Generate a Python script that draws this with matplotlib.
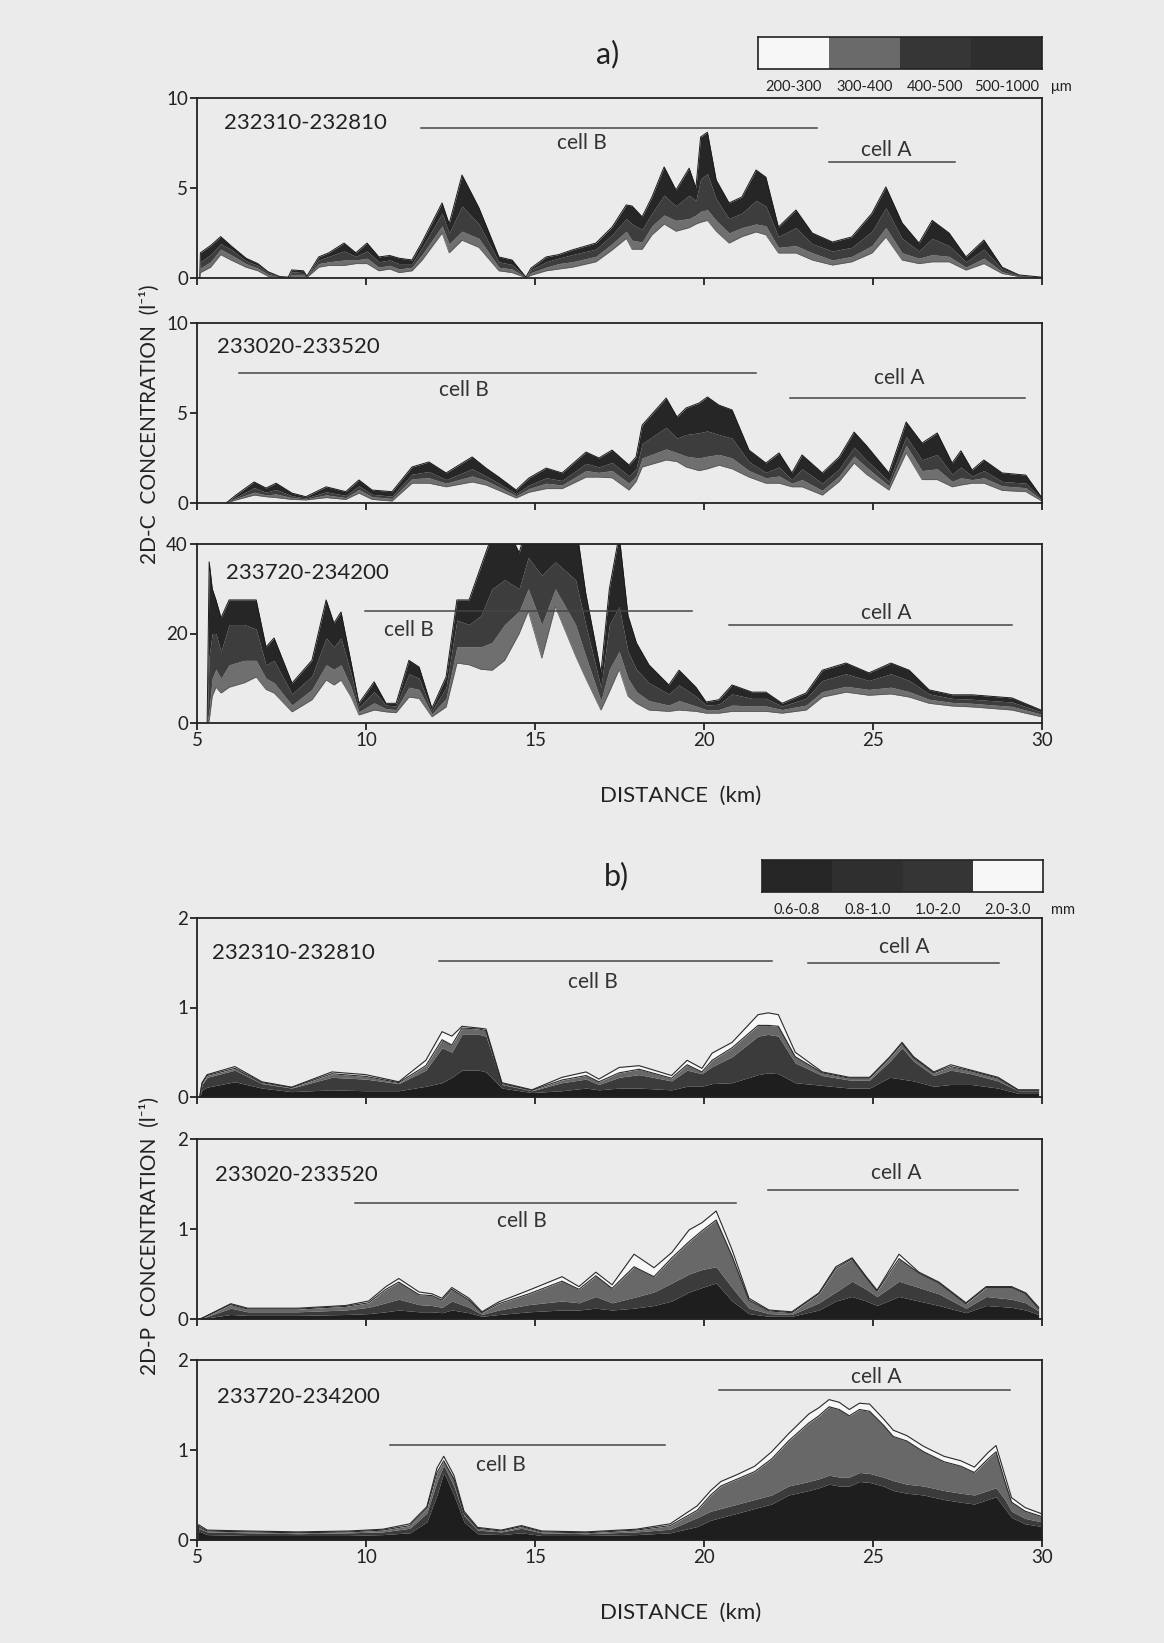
import numpy as np
import matplotlib.pyplot as plt

plt.rcParams['font.family'] = ['Lato', 'DejaVu Sans']

#* Datos (km y limites acumulados de cada capa)
# ---- 2D-C, 232310-232810
a1_km = [5.08, 5.1, 5.4, 5.7, 6.0, 6.45, 6.8, 7.1, 7.45, 7.7,
         7.8, 8.15, 8.25, 8.6, 8.9, 9.35, 9.7, 10.03, 10.38, 10.7,
         10.98, 11.36, 11.66, 12.25, 12.46, 12.84, 13.34, 13.93, 14.32, 14.73,
         14.88, 15.33, 15.7, 16.1, 16.8, 17.28, 17.7, 17.87, 18.17, 18.46,
         18.82, 19.17, 19.56, 19.76, 19.9, 20.1, 20.36, 20.74, 21.12, 21.54,
         21.83, 22.2, 22.72, 23.2, 23.8, 24.37, 24.97, 25.38, 25.86, 26.36,
         26.75, 27.25, 27.75, 28.28, 28.82, 29.32, 29.97]
a1_c0 = [0, 0.3, 0.6, 1.3, 1.0, 0.6, 0.4, 0.1, 0.02, 0.02,
         0.1, 0.1, 0.03, 0.6, 0.7, 0.7, 0.8, 0.8, 0.4, 0.5,
         0.3, 0.4, 1.0, 2.5, 1.4, 2.1, 1.7, 0.4, 0.3, 0.02,
         0.15, 0.4, 0.5, 0.6, 0.9, 1.56, 2.2, 1.6, 1.6, 2.4,
         3.0, 2.6, 2.8, 3.0, 3.1, 3.2, 2.6, 1.94, 2.3, 2.56,
         2.4, 1.39, 1.39, 1.0, 0.72, 0.9, 1.39, 2.28, 1.0, 0.8,
         0.9, 0.9, 0.44, 0.8, 0.25, 0.08, 0.02]
a1_c1 = [0, 0.55, 0.9, 1.6, 1.3, 0.8, 0.55, 0.2, 0.04, 0.03,
         0.2, 0.2, 0.05, 0.8, 0.9, 1.0, 1.0, 1.1, 0.6, 0.7,
         0.5, 0.6, 1.3, 2.9, 1.9, 2.6, 2.2, 0.6, 0.5, 0.03,
         0.3, 0.6, 0.8, 0.9, 1.2, 1.9, 2.6, 2.1, 2.0, 2.9,
         3.5, 3.2, 3.3, 3.5, 3.7, 3.8, 3.2, 2.5, 2.8, 3.0,
         2.9, 1.7, 1.8, 1.4, 1.0, 1.2, 1.8, 2.8, 1.4, 1.1,
         1.3, 1.2, 0.6, 1.1, 0.35, 0.1, 0.03]
a1_c2 = [0, 0.9, 1.3, 1.9, 1.6, 0.95, 0.7, 0.3, 0.05, 0.04,
         0.35, 0.3, 0.08, 1.0, 1.2, 1.5, 1.2, 1.5, 0.9, 1.0,
         0.8, 0.8, 1.7, 3.6, 2.5, 4.0, 3.0, 0.9, 0.75, 0.04,
         0.45, 0.9, 1.1, 1.3, 1.6, 2.4, 3.3, 3.0, 2.7, 3.6,
         4.6, 4.0, 4.6, 4.3, 5.5, 5.8, 4.4, 3.3, 3.6, 4.3,
         4.0, 2.3, 2.8, 1.9, 1.5, 1.7, 2.6, 3.9, 2.2, 1.5,
         2.2, 1.8, 0.9, 1.6, 0.5, 0.14, 0.04]
a1_c3 = [0, 1.4, 1.8, 2.3, 1.8, 1.1, 0.8, 0.35, 0.08, 0.05,
         0.45, 0.4, 0.1, 1.17, 1.4, 1.94, 1.4, 1.94, 1.17, 1.25,
         1.1, 1.0, 2.0, 4.17, 3.0, 5.72, 3.9, 1.17, 1.0, 0.05,
         0.55, 1.17, 1.3, 1.56, 1.94, 2.83, 4.06, 4.0, 3.4, 4.5,
         6.17, 4.89, 6.1, 5.0, 7.83, 8.1, 5.44, 4.17, 4.5, 6.0,
         5.6, 2.83, 3.78, 2.5, 2.0, 2.28, 3.6, 5.06, 3.06, 1.94,
         3.2, 2.5, 1.17, 2.11, 0.6, 0.17, 0.05]

# ---- 2D-C, 233020-233520
a2_km = [5.86, 6.15, 6.69, 7.04, 7.34, 7.81, 8.22, 8.82, 9.4, 9.79,
         10.18, 10.77, 11.36, 11.86, 12.37, 13.14, 13.55, 13.93, 14.44, 14.82,
         15.33, 15.8, 16.51, 16.89, 17.28, 17.78, 17.99, 18.17, 18.88, 19.2,
         19.47, 19.85, 20.1, 20.44, 20.83, 21.33, 21.83, 22.22, 22.6, 22.9,
         23.5, 24.0, 24.44, 24.8, 25.47, 25.98, 26.45, 26.9, 27.34, 27.6,
         27.93, 28.28, 28.82, 29.52, 30.0]
a2_c0 = [0, 0.17, 0.44, 0.35, 0.3, 0.2, 0.17, 0.3, 0.2, 0.55,
         0.2, 0.11, 1.1, 1.1, 0.9, 1.17, 1.0, 0.7, 0.28, 0.6,
         0.8, 0.8, 1.44, 1.44, 1.4, 0.72, 1.2, 2.0, 2.39, 2.3,
         2.0, 1.8, 1.9, 2.1, 1.9, 1.44, 1.1, 1.1, 0.9, 0.9,
         0.44, 1.2, 2.22, 1.6, 0.72, 2.78, 1.3, 1.3, 0.9, 1.0,
         1.1, 1.1, 0.7, 0.63, 0.1]
a2_c1 = [0, 0.25, 0.6, 0.45, 0.5, 0.3, 0.22, 0.45, 0.3, 0.75,
         0.35, 0.25, 1.35, 1.4, 1.1, 1.5, 1.25, 0.9, 0.4, 0.8,
         1.1, 1.0, 1.8, 1.7, 1.8, 1.1, 1.5, 2.5, 3.0, 2.8,
         2.6, 2.5, 2.6, 2.7, 2.5, 1.8, 1.4, 1.5, 1.1, 1.3,
         0.7, 1.5, 2.6, 2.0, 0.95, 3.2, 1.8, 1.9, 1.2, 1.4,
         1.3, 1.4, 0.95, 0.85, 0.15]
a2_c2 = [0, 0.32, 0.85, 0.6, 0.75, 0.4, 0.27, 0.62, 0.42, 0.95,
         0.48, 0.38, 1.6, 1.75, 1.3, 1.9, 1.5, 1.1, 0.52, 1.0,
         1.4, 1.25, 2.2, 2.0, 2.25, 1.5, 1.9, 3.3, 4.2, 3.6,
         3.8, 3.9, 4.0, 3.8, 3.6, 2.3, 1.7, 2.0, 1.3, 1.9,
         1.1, 1.9, 3.1, 2.4, 1.2, 3.7, 2.4, 2.7, 1.6, 2.0,
         1.5, 1.8, 1.2, 1.1, 0.2]
a2_c3 = [0, 0.44, 1.17, 0.83, 1.1, 0.55, 0.35, 0.9, 0.63, 1.28,
         0.72, 0.63, 2.0, 2.28, 1.67, 2.56, 1.94, 1.44, 0.72, 1.39,
         1.94, 1.67, 2.83, 2.5, 2.94, 2.11, 2.56, 4.33, 5.83, 4.78,
         5.28, 5.55, 5.89, 5.44, 5.17, 2.94, 2.22, 2.78, 1.67, 2.67,
         1.67, 2.56, 3.94, 3.2, 1.67, 4.5, 3.33, 3.89, 2.22, 2.9,
         1.83, 2.39, 1.67, 1.55, 0.28]

# ---- 2D-C, 233720-234200
a3_km = [5.3, 5.36, 5.45, 5.56, 5.71, 5.95, 6.4, 6.75, 7.04, 7.28,
         7.81, 8.4, 8.82, 9.05, 9.26, 9.56, 9.79, 10.24, 10.59, 10.89,
         11.27, 11.57, 11.95, 12.37, 12.69, 13.05, 13.4, 13.73, 14.1, 14.53,
         14.8, 15.2, 15.6, 16.2, 16.5, 16.95, 17.2, 17.49, 17.75, 18.0,
         18.37, 18.96, 19.26, 19.76, 20.06, 20.44, 20.83, 21.42, 21.83, 22.31,
         23.02, 23.5, 24.2, 24.88, 25.53, 26.07, 26.66, 27.34, 27.93, 29.11, 29.97]
a3_c0 = [0, 0.5, 6, 8, 6.7, 8, 9, 10.3, 7.5, 6.7,
         2.5, 5.2, 9.6, 8.5, 9.6, 5.8, 1.8, 2.9, 2.5, 2.3,
         5.8, 5.5, 1.4, 3.6, 13.4, 13, 12, 11.8, 14, 20,
         25, 14.5, 26, 15, 10, 2.9, 7, 12, 6, 4.4,
         2.9, 2.6, 2.9, 2.6, 2.2, 2.2, 2.6, 2.6, 2.6, 2.2,
         2.9, 5.8, 6.9, 6.2, 6.5, 5.8, 4.4, 3.8, 3.6, 2.9, 1.4]
a3_c1 = [0, 3, 10, 12, 10, 13, 14, 14, 10, 9,
         4, 7.5, 13, 12, 13, 8, 2.5, 4.5, 3.2, 3,
         8, 7.5, 2, 5.5, 17, 17, 17, 18, 22, 25,
         30, 22, 30, 22, 15, 5, 12, 16, 10, 7,
         5, 4, 5, 3.8, 3, 3, 4, 3.8, 3.8, 3,
         4, 7, 8.2, 7.5, 8, 7, 5.3, 4.6, 4.4, 3.7, 2]
a3_c2 = [0, 15, 20, 20, 16, 22, 22, 21, 13, 14,
         6.5, 10.5, 19, 17, 19, 11, 3.5, 7, 4, 3.8,
         11, 10, 2.7, 8, 23, 22, 24, 30, 32, 30,
         37, 33, 36, 32, 22, 8, 22, 26, 16, 12,
         9, 6.5, 8.5, 6, 4, 4.2, 6.5, 5.5, 5.5, 3.8,
         5.5, 9.5, 11, 9.5, 11, 9.5, 6.5, 5.5, 5.3, 4.7, 2.5]
a3_c3 = [0, 36, 30, 27.5, 23.5, 27.5, 27.5, 27.5, 17, 19,
         8.9, 14, 27.5, 22.3, 24.8, 13.4, 4.4, 9.2, 4.4, 4.4,
         14, 12.5, 3.3, 10.3, 27.5, 27.5, 35, 42, 45, 38,
         45, 45, 45, 45, 29, 11.2, 30, 42, 24, 17.9,
         13, 8.5, 11.8, 8, 4.7, 5.2, 8.5, 6.9, 6.9, 4.4,
         6.7, 11.8, 13.4, 11.2, 13.4, 11.8, 7.4, 6.3, 6.3, 5.6, 2.9]

# ---- 2D-P, 232310-232810
b1_km = [5.08, 5.15, 5.3, 6.12, 6.92, 7.8, 8.99, 9.99, 10.97, 11.77,
         12.25, 12.54, 12.84, 13.34, 13.55, 14.02, 14.91, 15.8, 16.51, 16.89,
         17.49, 18.08, 19.04, 19.5, 19.94, 20.24, 20.83, 21.6, 21.9, 22.2,
         22.7, 23.5, 24.3, 24.9, 25.5, 25.86, 26.2, 26.8, 27.3, 27.9, 28.7, 29.3, 29.9]
b1_c1 = [0, 0.08, 0.11, 0.17, 0.1, 0.06, 0.08, 0.07, 0.07, 0.12,
         0.16, 0.22, 0.3, 0.3, 0.28, 0.1, 0.05, 0.07, 0.1, 0.08,
         0.1, 0.1, 0.08, 0.12, 0.12, 0.15, 0.16, 0.25, 0.27, 0.26,
         0.16, 0.13, 0.1, 0.1, 0.22, 0.2, 0.18, 0.12, 0.14, 0.14, 0.1, 0.04, 0.04]
b1_c2 = [0, 0.14, 0.22, 0.3, 0.15, 0.1, 0.22, 0.2, 0.15, 0.3,
         0.55, 0.5, 0.7, 0.7, 0.68, 0.14, 0.07, 0.16, 0.2, 0.14,
         0.22, 0.25, 0.18, 0.3, 0.26, 0.34, 0.45, 0.68, 0.7, 0.68,
         0.38, 0.24, 0.19, 0.19, 0.4, 0.55, 0.4, 0.24, 0.3, 0.26, 0.18, 0.07, 0.07]
b1_c3 = [0, 0.15, 0.24, 0.32, 0.16, 0.105, 0.26, 0.23, 0.16, 0.35,
         0.64, 0.58, 0.77, 0.76, 0.74, 0.15, 0.075, 0.19, 0.24, 0.17,
         0.27, 0.31, 0.21, 0.36, 0.28, 0.41, 0.55, 0.8, 0.8, 0.79,
         0.45, 0.27, 0.21, 0.21, 0.44, 0.6, 0.44, 0.27, 0.34, 0.29, 0.21, 0.075, 0.075]
b1_c4 = [0, 0.16, 0.25, 0.34, 0.17, 0.11, 0.28, 0.25, 0.17, 0.41,
         0.73, 0.68, 0.79, 0.77, 0.76, 0.16, 0.08, 0.22, 0.28, 0.2,
         0.33, 0.35, 0.24, 0.41, 0.32, 0.49, 0.61, 0.92, 0.94, 0.92,
         0.5, 0.28, 0.22, 0.22, 0.45, 0.61, 0.45, 0.28, 0.36, 0.3, 0.22, 0.08, 0.08]

# ---- 2D-P, 233020-233520
b2_km = [5.08, 5.15, 6.0, 6.5, 7.98, 9.4, 10.08, 10.59, 10.97, 11.57,
         11.95, 12.25, 12.54, 13.05, 13.43, 13.93, 14.82, 15.8, 16.3, 16.8,
         17.28, 17.93, 18.52, 19.05, 19.56, 19.94, 20.36, 20.83, 21.33, 21.92,
         22.6, 23.4, 23.9, 24.38, 24.8, 25.12, 25.77, 26.36, 26.95, 27.75, 28.35, 29.1, 29.52, 29.9]
b2_c1 = [0, 0.005, 0.05, 0.04, 0.04, 0.05, 0.06, 0.08, 0.1, 0.08,
         0.08, 0.07, 0.1, 0.07, 0.03, 0.05, 0.08, 0.1, 0.1, 0.12,
         0.1, 0.12, 0.15, 0.2, 0.3, 0.35, 0.4, 0.2, 0.06, 0.03,
         0.03, 0.1, 0.2, 0.25, 0.2, 0.15, 0.25, 0.2, 0.15, 0.07, 0.15, 0.13, 0.1, 0.05]
b2_c2 = [0, 0.008, 0.12, 0.08, 0.08, 0.1, 0.13, 0.18, 0.22, 0.16,
         0.15, 0.13, 0.2, 0.13, 0.05, 0.1, 0.16, 0.2, 0.18, 0.25,
         0.18, 0.24, 0.3, 0.4, 0.5, 0.55, 0.58, 0.35, 0.12, 0.06,
         0.05, 0.18, 0.3, 0.42, 0.33, 0.25, 0.42, 0.35, 0.28, 0.12, 0.25, 0.22, 0.18, 0.09]
b2_c3 = [0, 0.009, 0.16, 0.11, 0.11, 0.14, 0.18, 0.33, 0.41, 0.27,
         0.26, 0.21, 0.33, 0.21, 0.07, 0.17, 0.28, 0.42, 0.33, 0.48,
         0.34, 0.58, 0.47, 0.68, 0.86, 0.98, 1.1, 0.7, 0.21, 0.09,
         0.07, 0.28, 0.56, 0.67, 0.46, 0.31, 0.67, 0.51, 0.4, 0.17, 0.35, 0.35, 0.28, 0.12]
b2_c4 = [0, 0.01, 0.17, 0.12, 0.12, 0.15, 0.2, 0.36, 0.45, 0.3,
         0.28, 0.23, 0.35, 0.23, 0.08, 0.19, 0.32, 0.47, 0.36, 0.52,
         0.38, 0.72, 0.57, 0.74, 0.99, 1.07, 1.2, 0.77, 0.23, 0.1,
         0.08, 0.29, 0.58, 0.68, 0.47, 0.32, 0.72, 0.52, 0.41, 0.18, 0.36, 0.36, 0.29, 0.13]

# ---- 2D-P, 233720-234200
b3_km = [5.03, 5.05, 5.3, 6.5, 8.0, 9.5, 10.5, 11.3, 11.8, 12.1,
         12.3, 12.6, 12.9, 13.3, 14.0, 14.6, 15.2, 16.5, 18.0, 19.0,
         19.8, 20.2, 20.5, 21.0, 21.5, 22.0, 22.5, 23.1, 23.4, 23.7,
         24.0, 24.3, 24.6, 24.9, 25.3, 25.6, 26.0, 26.5, 27.1, 27.6,
         28.0, 28.4, 28.64, 28.9, 29.1, 29.5, 30.0]
b3_c1 = [0, 0.1, 0.06, 0.05, 0.05, 0.05, 0.06, 0.08, 0.2, 0.5,
         0.75, 0.5, 0.2, 0.07, 0.06, 0.08, 0.05, 0.05, 0.06, 0.08,
         0.15, 0.22, 0.25, 0.3, 0.35, 0.4, 0.5, 0.55, 0.58, 0.62,
         0.6, 0.6, 0.65, 0.64, 0.6, 0.55, 0.52, 0.5, 0.45, 0.42,
         0.4, 0.45, 0.48, 0.35, 0.25, 0.18, 0.15]
b3_c2 = [0, 0.13, 0.09, 0.08, 0.07, 0.08, 0.09, 0.13, 0.3, 0.65,
         0.83, 0.6, 0.27, 0.11, 0.09, 0.13, 0.08, 0.07, 0.09, 0.12,
         0.25, 0.32, 0.35, 0.4, 0.45, 0.5, 0.6, 0.65, 0.68, 0.72,
         0.7, 0.7, 0.75, 0.74, 0.7, 0.66, 0.62, 0.6, 0.55, 0.52,
         0.5, 0.55, 0.58, 0.45, 0.32, 0.24, 0.2]
b3_c3 = [0, 0.15, 0.1, 0.09, 0.08, 0.09, 0.11, 0.16, 0.35, 0.75,
         0.88, 0.68, 0.3, 0.13, 0.1, 0.15, 0.09, 0.08, 0.11, 0.16,
         0.33, 0.5, 0.6, 0.68, 0.76, 0.9, 1.1, 1.3, 1.38, 1.48,
         1.45, 1.38, 1.45, 1.43, 1.28, 1.15, 1.1, 0.98, 0.87, 0.82,
         0.75, 0.9, 0.98, 0.65, 0.42, 0.32, 0.26]
b3_c4 = [0, 0.17, 0.11, 0.1, 0.09, 0.1, 0.12, 0.18, 0.37, 0.8,
         0.93, 0.72, 0.32, 0.14, 0.11, 0.16, 0.1, 0.09, 0.12, 0.18,
         0.38, 0.55, 0.65, 0.73, 0.82, 0.98, 1.18, 1.4, 1.47, 1.56,
         1.53, 1.45, 1.52, 1.51, 1.35, 1.22, 1.16, 1.04, 0.93, 0.88,
         0.81, 0.97, 1.05, 0.72, 0.47, 0.36, 0.29]

#* Rotulos de los paneles y de las celdas
periodos = ['232310-232810', '233020-233520', '233720-234200']
tamanos_a = ['200-300', '300-400', '400-500', '500-1000']
tamanos_b = ['0.6-0.8', '0.8-1.0', '1.0-2.0', '2.0-3.0']
# (texto, x ini, x fin, y linea, x texto, y texto)
celdas_a1 = [('cell B', 11.63, 23.34, 8.33, 16.4, 7.5), ('cell A', 23.7, 27.43, 6.44, 25.4, 7.1)]
celdas_a2 = [('cell B', 6.24, 21.54, 7.22, 12.9, 6.28), ('cell A', 22.54, 29.5, 5.83, 25.77, 6.94)]
celdas_a3 = [('cell B', 9.97, 19.64, 25.0, 11.27, 20.8), ('cell A', 20.74, 29.11, 21.9, 25.38, 24.6)]
celdas_b1 = [('cell B', 12.15, 22.0, 1.52, 16.7, 1.28), ('cell A', 23.07, 28.74, 1.50, 25.93, 1.68)]
celdas_b2 = [('cell B', 9.68, 20.94, 1.29, 14.6, 1.09), ('cell A', 21.9, 29.3, 1.43, 25.7, 1.62)]
celdas_b3 = [('cell B', 10.7, 18.84, 1.06, 14.0, 0.83), ('cell A', 20.43, 29.06, 1.67, 25.1, 1.81)]

fondo = '#ebebeb'
tinta = '#222222'
colores_a = [fondo, '#6f6f6f', '#3d3d3d', '#262626']
colores_b = ['#1e1e1e', '#3b3b3b', '#686868', '#f7f7f7']
leyenda_a = ['#f7f7f7', '#6a6a6a', '#363636', '#2e2e2e']
leyenda_b = ['#262626', '#2f2f2f', '#353535', '#f7f7f7']


def caja(arriba, abajo):
     # posicion de un panel a partir de sus bordes en pixeles
     return [197 / 1164, 1 - abajo / 1643, 845 / 1164, (abajo - arriba) / 1643]


def ejes(ax, ymax, etiquetas_x):
     ax.set_facecolor(fondo)
     ax.set_xlim(5, 30)
     ax.set_ylim(0, ymax)
     ax.set_xticks([5, 10, 15, 20, 25, 30])
     ax.set_yticks([0, ymax / 2, ymax])
     ax.set_yticklabels(['0', '%g' % (ymax / 2), '%g' % ymax])
     for s in ax.spines.values():
          s.set_linewidth(1.3)
          s.set_color(tinta)
     ax.tick_params(direction='out', length=5, width=1.3, colors=tinta,
                    labelsize=13.5, pad=1.5, labelbottom=etiquetas_x)


def rotulos(ax, periodo, x, y, celdas):
     ax.text(x, y, periodo, fontsize=16, color=tinta, ha='left', va='center')
     for texto, x0, x1, yl, xt, yt in celdas:
          ax.plot([x0, x1], [yl, yl], color='#444444', lw=1.1)
          ax.text(xt, yt, texto, fontsize=15, color='#333333', ha='center', va='center')


def capas_a(ax, km, c0, c1, c2, c3):
     km = np.array(km)
     lim = [np.zeros(len(km)), np.array(c0), np.array(c1), np.array(c2), np.array(c3)]
     for i in range(4):
          ax.fill_between(km, lim[i], lim[i + 1], color=colores_a[i], lw=0)
     ax.plot(km, lim[4], color='#1a1a1a', lw=0.7)
     ax.plot(km, lim[1], color='#555555', lw=0.5)


def capas_b(ax, km, c1, c2, c3, c4):
     km = np.array(km)
     lim = [np.zeros(len(km)), np.array(c1), np.array(c2), np.array(c3), np.array(c4)]
     for i in range(4):
          ax.fill_between(km, lim[i], lim[i + 1], color=colores_b[i], lw=0)
     ax.plot(km, lim[3], color='#2a2a2a', lw=0.8)
     ax.plot(km, lim[4], color='#2a2a2a', lw=0.8)


def leyenda(fig, pos, colores, textos, unidad):
     ax = fig.add_axes(pos)
     ax.bar(range(4), [1] * 4, width=1, align='edge', color=colores, lw=0)
     ax.set_xlim(0, 4)
     ax.set_ylim(0, 1)
     ax.set_xticks([])
     ax.set_yticks([])
     for s in ax.spines.values():
          s.set_linewidth(1.2)
          s.set_color(tinta)
     for i, t in enumerate(textos):
          ax.text(i + 0.5, -0.55, t, fontsize=10.5, color=tinta, ha='center', va='center')
     ax.text(4.12, -0.55, unidad, fontsize=10.5, color=tinta, ha='left', va='center')


fig = plt.figure(figsize=(11.64, 16.43), dpi=100)
fig.patch.set_facecolor(fondo)

#* Parte a) 2D-C
ax = fig.add_axes(caja(98, 278))
ejes(ax, 10, False)
capas_a(ax, a1_km, a1_c0, a1_c1, a1_c2, a1_c3)
rotulos(ax, periodos[0], 5.8, 8.6, celdas_a1)

ax = fig.add_axes(caja(323, 503))
ejes(ax, 10, False)
capas_a(ax, a2_km, a2_c0, a2_c1, a2_c2, a2_c3)
rotulos(ax, periodos[1], 5.6, 8.67, celdas_a2)

ax = fig.add_axes(caja(544, 723))
ejes(ax, 40, True)
capas_a(ax, a3_km, a3_c0, a3_c1, a3_c2, a3_c3)
rotulos(ax, periodos[2], 5.86, 33.5, celdas_a3)

#* Parte b) 2D-P
ax = fig.add_axes(caja(918, 1097))
ejes(ax, 2, False)
capas_b(ax, b1_km, b1_c1, b1_c2, b1_c3, b1_c4)
rotulos(ax, periodos[0], 5.44, 1.61, celdas_b1)

ax = fig.add_axes(caja(1139, 1319))
ejes(ax, 2, False)
capas_b(ax, b2_km, b2_c1, b2_c2, b2_c3, b2_c4)
rotulos(ax, periodos[1], 5.53, 1.6, celdas_b2)

ax = fig.add_axes(caja(1360, 1540))
ejes(ax, 2, True)
capas_b(ax, b3_km, b3_c1, b3_c2, b3_c3, b3_c4)
rotulos(ax, periodos[2], 5.6, 1.59, celdas_b3)

#* Leyendas y textos generales
leyenda(fig, [758 / 1164, 1 - 69 / 1643, 284 / 1164, 32 / 1643], leyenda_a, tamanos_a, 'μm')
leyenda(fig, [762 / 1164, 1 - 892 / 1643, 281 / 1164, 32 / 1643], leyenda_b, tamanos_b, 'mm')

fig.text(608 / 1164, 1 - 54 / 1643, 'a)', fontsize=22, color=tinta, ha='center', va='center')
fig.text(616 / 1164, 1 - 876 / 1643, 'b)', fontsize=22, color=tinta, ha='center', va='center')
fig.text(681 / 1164, 1 - 796 / 1643, 'DISTANCE  (km)', fontsize=16, color=tinta, ha='center', va='center')
fig.text(681 / 1164, 1 - 1613 / 1643, 'DISTANCE  (km)', fontsize=16, color=tinta, ha='center', va='center')
fig.text(150 / 1164, 1 - 424 / 1643, '2D-C  CONCENTRATION  (l⁻¹)', fontsize=15, color=tinta,
         rotation=90, ha='center', va='center')
fig.text(150 / 1164, 1 - 1236 / 1643, '2D-P  CONCENTRATION  (l⁻¹)', fontsize=15, color=tinta,
         rotation=90, ha='center', va='center')

fig.savefig('out.png', dpi=100, facecolor=fondo)
